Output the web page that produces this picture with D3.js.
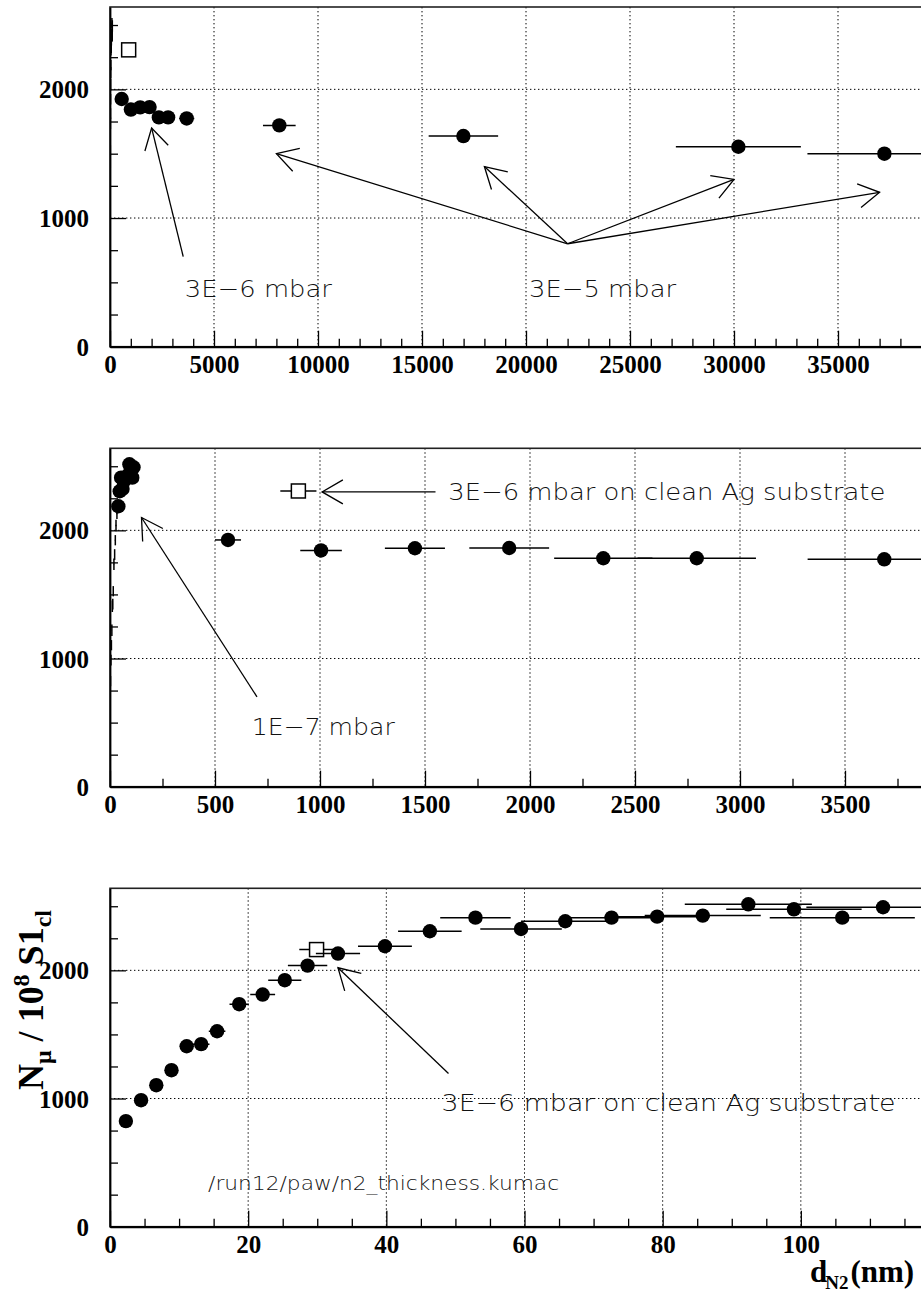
<!DOCTYPE html>
<html>
<head>
<meta charset="utf-8">
<script src="https://cdn.jsdelivr.net/npm/d3@7"></script>
<style>
  html, body { margin: 0; padding: 0; background: #fff; }
  svg { display: block; }
  .tick-label { font-family: "Liberation Serif", "Times New Roman", serif; font-weight: bold; font-size: 25px; fill: #000; }
  .note { font-family: "DejaVu Sans", sans-serif; font-weight: 200; fill: #111; }
</style>
</head>
<body>
<script>
// N_mu per 10^8 S1 clusters versus N2 layer thickness (nm)

// Layers grown at 1E-7 mbar (thin films, nm)
const thinX    = [2.3, 4.5, 6.7, 8.9, 11.1, 13.2, 15.5, 18.7, 22.1, 25.3, 28.6, 33.0,
                  39.8, 46.3, 52.9, 59.5, 65.9, 72.6, 79.2, 85.8, 92.4, 99.0, 106.0, 111.9];
const thinY    = [824, 987, 1104, 1221, 1408, 1424, 1525, 1736, 1811, 1923, 2037, 2131,
                  2188, 2305, 2411, 2323, 2383, 2411, 2419, 2427, 2515, 2476, 2411, 2492];
const thinXErr = [0.2, 0.4, 0.6, 0.8, 1.0, 1.2, 1.2, 1.4, 1.8, 2.4, 2.85, 3.2,
                  3.9, 4.6, 5.1, 5.9, 6.4, 6.9, 7.6, 8.4, 9.2, 9.8, 10.5, 11.1];
const thinYErr = [40, 42, 40, 45, 45, 42, 40, 45, 42, 40, 45, 42,
                  40, 42, 45, 40, 42, 40, 45, 42, 40, 42, 40, 45];

// Layers grown at 3E-6 mbar
const p6X    = [562, 1005, 1452, 1901, 2349, 2794, 3687];
const p6Y    = [1925, 1843, 1860, 1862, 1782, 1782, 1774];
const p6XErr = [62, 99, 143, 190, 234, 282, 365];

// Layers grown at 3E-5 mbar
const p5X    = [8140, 16990, 30210, 37230];
const p5Y    = [1720, 1637, 1554, 1500];
const p5XErr = [785, 1670, 3005, 3700];

// 3E-6 mbar on clean Ag substrate
const agX    = [29.9, 897];
const agY    = [2162, 2307];
const agXErr = [2.5, 86];

// Axis ticks
const yMajor = [0, 1000, 2000];
const yMinorStep = 250;
const yMax = 2640;

const W = 921, H = 1294;
const LEFT = 110;

const svg = d3.select("body").append("svg")
  .attr("width", W).attr("height", H)
  .attr("viewBox", `0 0 ${W} ${H}`);

const zip = (xs, ys, ex, ey) => xs.map((x, i) => ({ x, y: ys[i], ex: ex ? ex[i] : 0, ey: ey ? ey[i] : 0 }));
const thin = zip(thinX, thinY, thinXErr, thinYErr);
const p6 = zip(p6X, p6Y, p6XErr);
const p5 = zip(p5X, p5Y, p5XErr);
const ag = zip(agX, agY, agXErr);

const panels = [
  {
    top: 7, bottom: 346.7, right: 942, xMax: 40000, xStep: 5000, xMinor: 1000,
    circles: [p6, p5], barsOnly: [thin], squares: [ag[1]],
    arrows: [
      { from: [3520, 700], to: [2000, 1700] },
      { from: [22000, 800], to: [8000, 1500] },
      { from: [22000, 800], to: [18000, 1400] },
      { from: [22000, 800], to: [30000, 1300] },
      { from: [22000, 800], to: [37000, 1200] }
    ],
    notes: [
      { text: "3E\u22126 mbar", at: [3600, 390], size: 23, len: 147 },
      { text: "3E\u22125 mbar", at: [20150, 390], size: 23, len: 147 }
    ]
  },
  {
    top: 448.3, bottom: 786.7, right: 950, xMax: 4000, xStep: 500, xMinor: 250,
    circles: [p6, thin.filter(d => d.x >= 35)], barsOnly: [thin.filter(d => d.x < 35)], squares: [ag[1]],
    arrows: [
      { from: [700, 700], to: [150, 2100] },
      { from: [1550, 2300], to: [1010, 2300] }
    ],
    notes: [
      { text: "3E\u22126 mbar on clean Ag substrate", at: [1611, 2240], size: 23, len: 437 },
      { text: "1E\u22127 mbar", at: [675, 402], size: 23, len: 143 }
    ]
  },
  {
    top: 888.3, bottom: 1226.7, right: 939, xMax: 120, xStep: 20, xMinor: 5,
    circles: [thin], barsOnly: [], squares: [ag[0]],
    arrows: [
      { from: [49, 1195], to: [33, 2020] }
    ],
    notes: [
      { text: "3E\u22126 mbar on clean Ag substrate", at: [48, 900], size: 23, len: 454 },
      { text: "/run12/paw/n2_thickness.kumac", at: [14.2, 286], size: 19, len: 351 }
    ]
  }
];

panels.forEach((p, pi) => {
  const x = d3.scaleLinear().domain([0, p.xMax]).range([LEFT, p.right]);
  const y = d3.scaleLinear().domain([0, yMax]).range([p.bottom, p.top]);
  const g = svg.append("g");

  const clipId = "clip" + pi;
  svg.append("clipPath").attr("id", clipId)
    .append("rect").attr("x", LEFT).attr("y", p.top)
    .attr("width", p.right - LEFT).attr("height", p.bottom - p.top);

  const xMajorVals = d3.range(0, p.xMax + 1e-9, p.xStep);
  const xMinorVals = d3.range(0, p.xMax + 1e-9, p.xMinor).filter(v => !xMajorVals.some(m => Math.abs(m - v) < 1e-9));
  const yMinorVals = d3.range(0, yMax, yMinorStep).filter(v => v % 1000 !== 0);

  // dotted grid
  const grid = g.append("g").attr("stroke", "#000").attr("stroke-width", 1)
    .attr("stroke-dasharray", "1.4,2.6");
  grid.selectAll("line.gx").data(xMajorVals.filter(v => v > 0 && v < p.xMax)).join("line")
    .attr("x1", d => x(d)).attr("x2", d => x(d))
    .attr("y1", p.top).attr("y2", p.bottom);
  grid.selectAll("line.gy").data(yMajor.filter(v => v > 0)).join("line")
    .attr("x1", LEFT).attr("x2", p.right)
    .attr("y1", d => y(d)).attr("y2", d => y(d));

  // frame
  g.append("rect").attr("x", LEFT).attr("y", p.top)
    .attr("width", p.right - LEFT).attr("height", p.bottom - p.top)
    .attr("fill", "none").attr("stroke", "#222").attr("stroke-width", 1.6);

  // bottom axis: major ticks with labels, pointing inward
  const xAxis = d3.axisBottom(x).tickValues(xMajorVals).tickSizeInner(-16).tickSizeOuter(0)
    .tickPadding(9).tickFormat(d3.format("d"));
  const xa = g.append("g").attr("transform", `translate(0,${p.bottom})`).call(xAxis);
  xa.select(".domain").attr("stroke", "#000").attr("stroke-width", 2.2);
  xa.selectAll(".tick line").attr("stroke", "#000").attr("stroke-width", 1.3);
  xa.selectAll(".tick text").attr("class", "tick-label").attr("font-size", null).attr("font-family", null)
    .style("display", d => x(d) > 900 ? "none" : null);
  const xaMin = g.append("g").attr("transform", `translate(0,${p.bottom})`)
    .call(d3.axisBottom(x).tickValues(xMinorVals).tickSizeInner(-8).tickSizeOuter(0).tickFormat(""));
  xaMin.select(".domain").remove();
  xaMin.selectAll(".tick line").attr("stroke", "#000").attr("stroke-width", 1.3);

  // left axis
  const yAxis = d3.axisLeft(y).tickValues(yMajor).tickSizeInner(-16).tickSizeOuter(0)
    .tickPadding(21).tickFormat(d3.format("d"));
  const ya = g.append("g").attr("transform", `translate(${LEFT},0)`).call(yAxis);
  ya.select(".domain").attr("stroke", "#000").attr("stroke-width", 1.8);
  ya.selectAll(".tick line").attr("stroke", "#000").attr("stroke-width", 1.3);
  ya.selectAll(".tick text").attr("class", "tick-label").attr("font-size", null).attr("font-family", null)
    .attr("dy", "0.34em");
  const yaMin = g.append("g").attr("transform", `translate(${LEFT},0)`)
    .call(d3.axisLeft(y).tickValues(yMinorVals).tickSizeInner(-8).tickSizeOuter(0).tickFormat(""));
  yaMin.select(".domain").remove();
  yaMin.selectAll(".tick line").attr("stroke", "#000").attr("stroke-width", 1.3);

  // data
  const data = g.append("g").attr("clip-path", `url(#${clipId})`);

  const drawBars = (sel, pts, withX, withY) => {
    if (withX) sel.selectAll(null).data(pts).join("line")
      .attr("x1", d => x(d.x - d.ex)).attr("x2", d => x(d.x + d.ex))
      .attr("y1", d => y(d.y)).attr("y2", d => y(d.y))
      .attr("stroke", "#000").attr("stroke-width", 1.5);
    if (withY) sel.selectAll(null).data(pts.filter(d => d.ey > 0)).join("line")
      .attr("x1", d => x(d.x)).attr("x2", d => x(d.x))
      .attr("y1", d => y(d.y - d.ey)).attr("y2", d => y(d.y + d.ey))
      .attr("stroke", "#000").attr("stroke-width", 1.5);
  };

  p.barsOnly.forEach(pts => drawBars(data.append("g"), pts, true, true));

  p.squares.forEach(d => {
    const sg = data.append("g");
    drawBars(sg, [d], true, false);
    sg.append("rect").attr("x", x(d.x) - 7).attr("y", y(d.y) - 7)
      .attr("width", 14).attr("height", 14)
      .attr("fill", "#fff").attr("stroke", "#000").attr("stroke-width", 1.5);
  });

  p.circles.forEach(pts => {
    const cg = data.append("g");
    drawBars(cg, pts, true, true);
    cg.selectAll("circle").data(pts).join("circle")
      .attr("cx", d => x(d.x)).attr("cy", d => y(d.y)).attr("r", 7.2)
      .attr("fill", "#000");
  });

  // arrows with open heads
  const ag2 = g.append("g").attr("stroke", "#000").attr("stroke-width", 1.3).attr("fill", "none");
  p.arrows.forEach(a => {
    const x1 = x(a.from[0]), y1 = y(a.from[1]);
    const x2 = x(a.to[0]), y2 = y(a.to[1]);
    ag2.append("line").attr("x1", x1).attr("y1", y1).attr("x2", x2).attr("y2", y2);
    const ang = Math.atan2(y1 - y2, x1 - x2);
    const L = 24, spread = Math.PI / 6;
    const hp = [ang - spread, ang + spread].map(t => [x2 + L * Math.cos(t), y2 + L * Math.sin(t)]);
    ag2.append("path").attr("d", `M${hp[0][0]},${hp[0][1]}L${x2},${y2}L${hp[1][0]},${hp[1][1]}`);
  });

  // notes
  p.notes.forEach(n => {
    g.append("text").attr("class", "note")
      .attr("x", x(n.at[0])).attr("y", y(n.at[1]))
      .attr("font-size", n.size)
      .attr("textLength", n.len).attr("lengthAdjust", "spacingAndGlyphs")
      .text(n.text);
  });
});

// y axis title
const yt = svg.append("text")
  .attr("transform", "translate(43,1000) rotate(-90)")
  .attr("text-anchor", "middle")
  .attr("font-family", "Liberation Serif, Times New Roman, serif")
  .attr("font-weight", "bold").attr("font-size", 36).attr("fill", "#000");
yt.append("tspan").text("N");
yt.append("tspan").attr("font-size", 24).attr("dy", 8).text("\u03bc");
yt.append("tspan").attr("dy", -8).text(" / 10");
yt.append("tspan").attr("font-size", 24).attr("dy", -14).text("8");
yt.append("tspan").attr("dy", 14).text(" S1");
yt.append("tspan").attr("font-size", 24).attr("dy", 8).text("cl");

// x axis title
const xt = svg.append("text")
  .attr("x", 810).attr("y", 1282)
  .attr("font-family", "Liberation Serif, Times New Roman, serif")
  .attr("font-weight", "bold").attr("font-size", 31).attr("fill", "#000");
xt.append("tspan").text("d");
xt.append("tspan").attr("font-size", 19).attr("dy", 7).attr("dx", -2).text("N2");
xt.append("tspan").attr("dy", -7).attr("dx", 2).text("(nm)");
</script>
</body>
</html>
